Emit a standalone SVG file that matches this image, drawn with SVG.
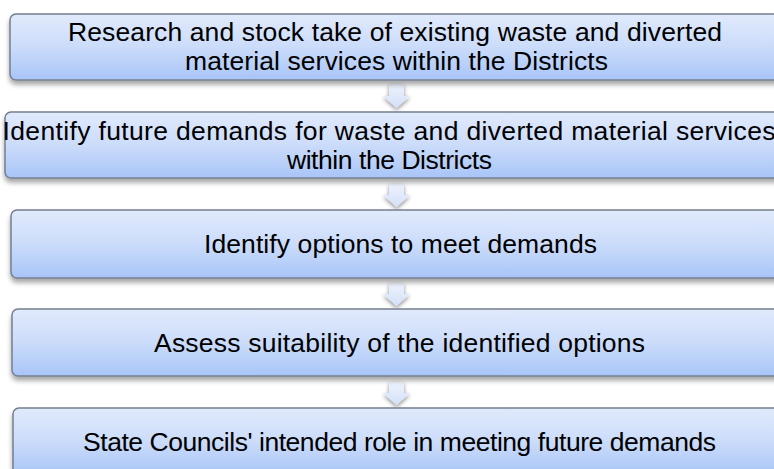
<svg xmlns="http://www.w3.org/2000/svg" width="774" height="469" viewBox="0 0 774 469">
  <style>
    .box { fill: url(#boxFill); stroke: #757f8e; stroke-width: 1.5; filter: url(#shadow); }
    .label { font-family: "Liberation Sans", Arial, sans-serif; font-size: 26.5px; fill: #000000; text-anchor: middle; }
    .arrow { fill: url(#arrowFill); filter: url(#arrowShadow); }
  </style>
  <defs>
    <linearGradient id="boxFill" x1="0" y1="0" x2="0" y2="1">
      <stop offset="0" stop-color="#e1eafc"/>
      <stop offset="0.5" stop-color="#cbdcfa"/>
      <stop offset="1" stop-color="#a8c5f8"/>
    </linearGradient>
    <linearGradient id="arrowFill" x1="0" y1="0" x2="0" y2="1">
      <stop offset="0" stop-color="#eef3fd"/>
      <stop offset="1" stop-color="#d3e0f8"/>
    </linearGradient>
    <filter id="shadow" x="-5%" y="-20%" width="110%" height="150%">
      <feGaussianBlur in="SourceAlpha" stdDeviation="2.5"/>
      <feOffset dx="0" dy="4" result="blur"/>
      <feComponentTransfer><feFuncA type="linear" slope="0.35"/></feComponentTransfer>
      <feMerge><feMergeNode/><feMergeNode in="SourceGraphic"/></feMerge>
    </filter>
    <filter id="arrowShadow" x="-50%" y="-50%" width="200%" height="200%">
      <feGaussianBlur in="SourceAlpha" stdDeviation="2"/>
      <feOffset dx="0" dy="2"/>
      <feComponentTransfer><feFuncA type="linear" slope="0.45"/></feComponentTransfer>
      <feMerge><feMergeNode/><feMergeNode in="SourceGraphic"/></feMerge>
    </filter>
  </defs>

  <!-- connectors: block arrows between the steps -->
  <g id="connectors">
    <path class="arrow" d="M389,84 H404 V96 H410 L396.5,108 L383,96 H389 Z"/>
    <path class="arrow" d="M389,184 H404 V195 H410 L396.5,207 L383,195 H389 Z"/>
    <path class="arrow" d="M389,283 H404 V294 H410 L396.5,306 L383,294 H389 Z"/>
    <path class="arrow" d="M389,382 H404 V393 H410 L396.5,405 L383,393 H389 Z"/>
  </g>

  <g id="step1">
    <rect class="box" x="10" y="14" width="785" height="66" rx="6"/>
    <text class="label" x="395" y="41" textLength="654" lengthAdjust="spacing">Research and stock take of existing waste and diverted</text>
    <text class="label" x="396.5" y="70" textLength="423" lengthAdjust="spacing">material services within the Districts</text>
  </g>

  <g id="step2">
    <rect class="box" x="5" y="112" width="795" height="66" rx="6"/>
    <text class="label" x="389" y="140" textLength="773" lengthAdjust="spacing">Identify future demands for waste and diverted material services</text>
    <text class="label" x="389.5" y="169" textLength="205" lengthAdjust="spacing">within the Districts</text>
  </g>

  <g id="step3">
    <rect class="box" x="11" y="210" width="785" height="68" rx="6"/>
    <text class="label" x="400.5" y="253" textLength="393" lengthAdjust="spacing">Identify options to meet demands</text>
  </g>

  <g id="step4">
    <rect class="box" x="12" y="309" width="785" height="67" rx="6"/>
    <text class="label" x="399.5" y="352" textLength="491" lengthAdjust="spacing">Assess suitability of the identified options</text>
  </g>

  <g id="step5">
    <rect class="box" x="13" y="408" width="785" height="67" rx="6"/>
    <text class="label" x="399.5" y="451" textLength="633" lengthAdjust="spacing">State Councils' intended role in meeting future demands</text>
  </g>
</svg>
